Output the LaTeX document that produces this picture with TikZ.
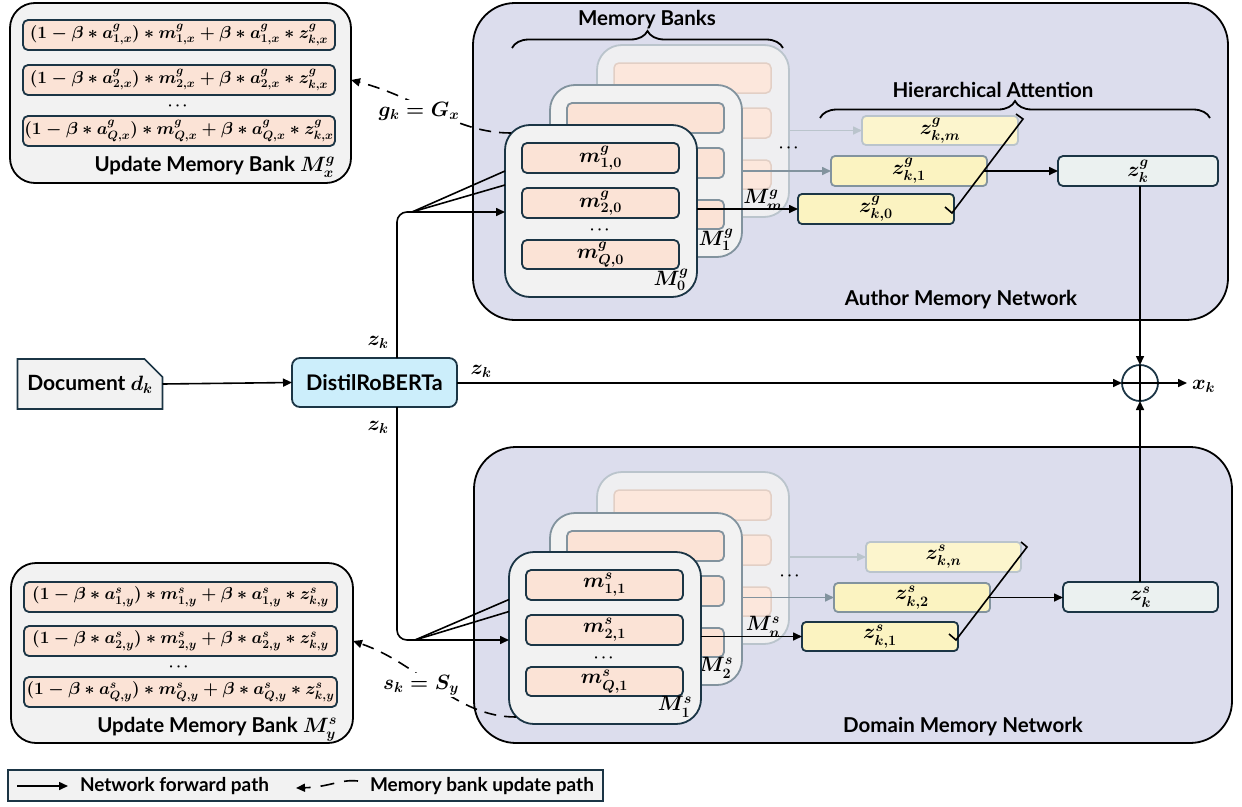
\documentclass[tikz,border=0pt]{standalone}
\usepackage{amsmath}
\usepackage[no-math]{fontspec}
\setmainfont{Lato}
\usetikzlibrary{arrows.meta,shapes.misc,decorations.pathreplacing,calc}
\AtBeginDocument{\mathversion{bold}}
\definecolor{lav}{HTML}{DCDDED}
\definecolor{cardbg}{HTML}{F2F2F2}
\definecolor{peach}{HTML}{FBE3D6}
\definecolor{dk}{HTML}{1B3545}
\definecolor{ylw}{HTML}{FBF3C1}
\definecolor{zkc}{HTML}{EBF1F0}
\definecolor{blu}{HTML}{CCEEFB}
\definecolor{fadeA}{HTML}{BAC4CC}
\definecolor{fadeB}{HTML}{82939E}
\newcommand\mybox[7]{\node[#1, minimum width={((#4)-(#2))*1pt}, minimum height={((#5)-(#3))*1pt}] (#6) at ({((#2)+(#4))/2},{((#3)+(#5))/2}) {#7};}
\newcommand\card[9]{%
 \mybox{#3}{#1}{#2}{#1+192}{#2+172}{#5}{}
 \mybox{#4}{#1+17}{#2+18}{#1+174}{#2+48}{#5a}{#7}
 \mybox{#4}{#1+17}{#2+63}{#1+174}{#2+93}{#5b}{#8}
 \mybox{#4}{#1+17}{#2+115}{#1+174}{#2+144}{#5c}{#9}
 \node[mlab] (#5l) at ({#1+166},{#2+155}) {#6};
}
\tikzset{
 every node/.style={font=\bfseries\fontsize{20.5}{23}\selectfont, inner sep=0pt, outer sep=0pt},
 fwd/.style={line width=1.6pt, -{Triangle[length=9pt,width=8pt]}},
 upd/.style={line width=1.6pt, dash pattern=on 12pt off 8pt, -{Triangle[length=9pt,width=8pt]}},
 plain/.style={line width=1.6pt},
 bigbox/.style={rectangle, draw=black, line width=1.8pt, fill=lav, rounded corners=42pt},
 updbox/.style={rectangle, draw=black, line width=1.8pt, fill=cardbg, rounded corners=25pt},
 urow/.style={rectangle, draw=dk, line width=1.8pt, fill=peach, rounded corners=5pt, font=\fontsize{17}{19}\selectfont},
 cardA/.style={rectangle, draw=dk, line width=1.8pt, fill=cardbg, rounded corners=25pt},
 cardB/.style={rectangle, draw=fadeB, line width=1.8pt, fill=cardbg, rounded corners=25pt},
 cardM/.style={rectangle, draw=fadeA, line width=1.8pt, fill=cardbg!85!lav, rounded corners=25pt},
 rowA/.style={rectangle, draw=dk, line width=1.8pt, fill=peach, rounded corners=5pt, font=\fontsize{22}{24}\selectfont},
 rowB/.style={rectangle, draw=fadeB, line width=1.8pt, fill=peach, rounded corners=5pt},
 rowM/.style={rectangle, draw=peach!80!gray, line width=1.5pt, fill=peach!85!white, rounded corners=5pt},
 mlab/.style={font=\fontsize{20}{22}\selectfont},
 zA/.style={rectangle, draw=dk, line width=1.8pt, fill=ylw, rounded corners=4pt, font=\fontsize{22}{24}\selectfont},
 zB/.style={rectangle, draw=fadeB, line width=1.8pt, fill=ylw, rounded corners=4pt, font=\fontsize{22}{24}\selectfont},
 zM/.style={rectangle, draw=fadeA, line width=1.8pt, fill=ylw!80!white, rounded corners=4pt, font=\fontsize{22}{24}\selectfont},
 zK/.style={rectangle, draw=dk, line width=1.8pt, fill=zkc, rounded corners=5pt, font=\fontsize{22}{24}\selectfont},
 legbox/.style={rectangle, draw=dk, line width=1.8pt, fill=cardbg},
 brc/.style={line width=1.8pt, decorate, decoration={brace, amplitude=17pt, aspect=0.5}},
 zl/.style={font=\fontsize{21}{23}\selectfont},
 legt/.style={font=\bfseries\fontsize{19}{21}\selectfont},
 dots/.style={font=\fontsize{14}{14}\selectfont},
}
\begin{document}
\begin{tikzpicture}[x=1pt,y=-1pt]
\useasboundingbox (0,0) rectangle (1242,806);
% big network boxes
\mybox{bigbox}{473}{3}{1228}{320}{author}{}
\mybox{bigbox}{474}{447}{1232}{743}{domain}{}
\node (authorlab) at (961,300) {Author Memory Network};
\node (domainlab) at (963,727) {Domain Memory Network};
% update memory boxes
\mybox{updbox}{10}{3}{351}{183}{ug}{}
\mybox{urow}{23}{20}{335}{50}{ug1}{$(1-\beta\ast a^g_{1,x})\ast m^g_{1,x}+\beta\ast a^g_{1,x}\ast z^g_{k,x}$}
\mybox{urow}{23}{65}{335}{95}{ug2}{$(1-\beta\ast a^g_{2,x})\ast m^g_{2,x}+\beta\ast a^g_{2,x}\ast z^g_{k,x}$}
\node[dots] (ugd) at (179,106) {$\cdots$};
\mybox{urow}{23}{116}{335}{146}{ug3}{$(1-\beta\ast a^g_{Q,x})\ast m^g_{Q,x}+\beta\ast a^g_{Q,x}\ast z^g_{k,x}$}
\node[anchor=east] (ugl) at (335,167) {Update Memory Bank $M^g_x$};
\mybox{updbox}{11}{563}{353}{743}{us}{}
\mybox{urow}{24}{582}{337}{612}{us1}{$(1-\beta\ast a^s_{1,y})\ast m^s_{1,y}+\beta\ast a^s_{1,y}\ast z^s_{k,y}$}
\mybox{urow}{24}{626}{337}{656}{us2}{$(1-\beta\ast a^s_{2,y})\ast m^s_{2,y}+\beta\ast a^s_{2,y}\ast z^s_{k,y}$}
\node[dots] (usd) at (180,667) {$\cdots$};
\mybox{urow}{24}{677}{337}{707}{us3}{$(1-\beta\ast a^s_{Q,y})\ast m^s_{Q,y}+\beta\ast a^s_{Q,y}\ast z^s_{k,y}$}
\node[anchor=east] (usl) at (337,729) {Update Memory Bank $M^s_y$};
% document and encoder
\node[chamfered rectangle, chamfered rectangle corners=north east, chamfered rectangle xsep=9pt, chamfered rectangle ysep=9pt, draw=dk, line width=1.6pt, fill=cardbg, minimum width=145pt, minimum height=50pt, font=\bfseries\fontsize{21}{23}\selectfont] (doc) at (90,384) {Document $d_k$};
\mybox{rectangle, draw=dk, line width=1.8pt, fill=blu, rounded corners=8pt, font=\bfseries\fontsize{21.5}{23}\selectfont}{292}{358}{457}{407}{distil}{DistilRoBERTa}
% memory cards (author)
\card{597}{45}{cardM}{rowM}{gm}{$M^g_m$}{}{}{}
\card{550}{85}{cardB}{rowB}{ga}{$M^g_1$}{}{}{}
\card{505}{125}{cardA}{rowA}{gz}{$M^g_0$}{$m^g_{1,0}$}{$m^g_{2,0}$}{$m^g_{Q,0}$}
\node[dots] (gzd) at (601,230) {$\cdots$};
% memory cards (domain)
\card{597}{472}{cardM}{rowM}{sn}{$M^s_n$}{}{}{}
\card{550}{513}{cardB}{rowB}{sb}{$M^s_2$}{}{}{}
\card{509}{552}{cardA}{rowA}{sa}{$M^s_1$}{$m^s_{1,1}$}{$m^s_{2,1}$}{$m^s_{Q,1}$}
\node[dots] (sad) at (605,658) {$\cdots$};
% z boxes author
\mybox{zM}{862}{116}{1018}{145}{zgm}{$z^g_{k,m}$}
\mybox{zB}{831}{156}{987}{186}{zga}{$z^g_{k,1}$}
\mybox{zA}{798}{194}{954}{224}{zgz}{$z^g_{k,0}$}
\mybox{zK}{1058}{156}{1218}{186}{zkg}{$z^g_k$}
% z boxes domain
\mybox{zM}{866}{542}{1021}{572}{zsn}{$z^s_{k,n}$}
\mybox{zB}{834}{583}{990}{612}{zsb}{$z^s_{k,2}$}
\mybox{zA}{802}{622}{958}{651}{zsa}{$z^s_{k,1}$}
\mybox{zK}{1063}{582}{1218}{612}{zks}{$z^s_k$}
\node[dots] (gdots) at (790,148) {$\cdots$};
\node[dots] (sdots) at (791,576) {$\cdots$};
% card -> z arrows
\draw[fwd, draw=fadeA] (gm.east |- zgm.west) -- (zgm.west);
\draw[fwd, draw=fadeB] (ga.east |- zga.west) -- (zga.west);
\draw[fwd] (gz.east |- zgz.west) -- (zgz.west);
\draw[fwd, draw=fadeA] (sn.east |- zsn.west) -- (zsn.west);
\draw[fwd, draw=fadeB] (sb.east |- zsb.west) -- (zsb.west);
\draw[fwd] (sa.east |- zsa.west) -- (zsa.west);
% attention lines
\draw[plain] (945,207) -- (952,213) -- (1023,119) -- (1016,114);
\draw[plain] (949,634) -- (956,640) -- (1027,547) -- (1021,542);
\coordinate (hg) at (984,171);
\coordinate (hs) at (988,597.5);
\draw[fwd] (hg) -- (hg -| zkg.west);
\draw[fwd] (hs) -- (hs -| zks.west);
% braces
\draw[brc] (512,48) -- (783,48);
\node (mbl) at (647,20) {Memory Banks};
\draw[brc] (820,118) -- (1210,118);
\node (hal) at (993,90) {Hierarchical Attention};
% combination
\node[circle, draw=dk, line width=1.8pt, minimum size=36pt] (plus) at (1140,383) {};
\draw[plain] (plus.north) -- (plus.south) (plus.west) -- (plus.east);
\draw[fwd] (zkg.south -| plus.north) -- (plus.north);
\draw[fwd] (zks.north -| plus.south) -- (plus.south);
\draw[fwd] (distil.east |- plus.west) -- (plus.west);
\coordinate (xout) at (1187,383);
\draw[fwd] (plus.east) -- (xout);
\node[anchor=west, zl] (xk) at (1192,386) {$x_k$};
\draw[fwd] (doc.east) -- (distil.west);
% fan out from encoder
\coordinate (ftop) at (412,212);
\coordinate (fbot) at (415,640);
\draw[plain, rounded corners=10pt] ([xshift=22.5pt]distil.north) |- (ftop);
\draw[plain, rounded corners=10pt] ([xshift=22.5pt]distil.south) |- (fbot);
\draw[plain] (ftop) -- ([yshift=40pt]gz.west);
\draw[plain] (ftop) -- ([yshift=26pt]gz.west);
\draw[fwd] (ftop) -- (ftop -| gz.west);
\draw[plain] (fbot) -- ([yshift=38.5pt]sa.west);
\draw[plain] (fbot) -- ([yshift=26.5pt]sa.west);
\draw[fwd] (fbot) -- (fbot -| sa.west);
\node[zl] (zk1) at (378,342) {$z_k$};
\node[zl] (zk2) at (481,371) {$z_k$};
\node[zl] (zk3) at (378,427) {$z_k$};
% update paths
\coordinate (gst) at (511,133);
\coordinate (sst) at (516,717);
\draw[upd] (gst) .. controls (455,133) and (420,98) .. (ug.east |- ug2.east);
\node[zl, fill=white, inner sep=1.5pt] (gkl) at (419,111) {$g_k=G_x$};
\draw[upd] (sst) .. controls (455,717) and (420,664) .. (us.east |- us2.east);
\node[zl, fill=white, inner sep=1.5pt] (skl) at (421,685) {$s_k=S_y$};
% legend
\mybox{legbox}{8}{770}{603}{801}{leg}{}
\coordinate (la) at (17,786);
\coordinate (lb) at (68,786);
\draw[fwd] (la) -- (lb);
\node[anchor=west, legt] (lt1) at (80,786) {Network forward path};
\coordinate (lc) at (358,781);
\coordinate (ld) at (296,788);
\draw[upd, dash pattern=on 14pt off 10pt] (lc) .. controls (340,779) and (330,787) .. (ld);
\node[anchor=west, legt] (lt2) at (370,786) {Memory bank update path};
\end{tikzpicture}
\end{document}
